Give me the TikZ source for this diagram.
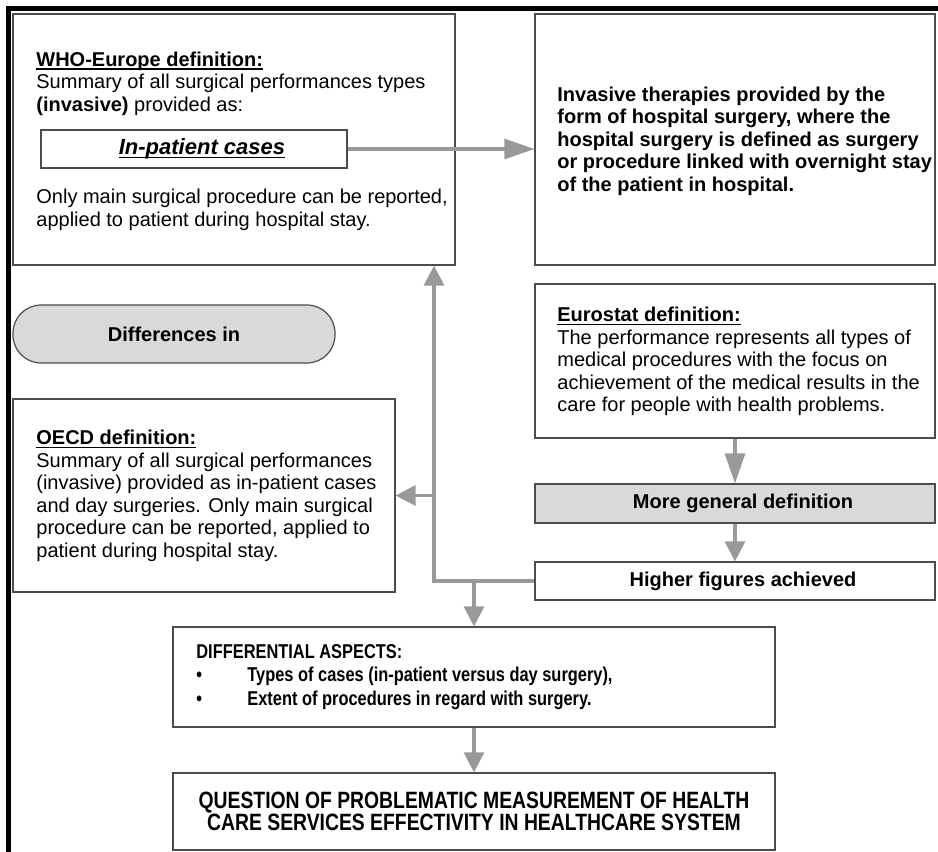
\documentclass[tikz,border=0pt]{standalone}
\usepackage{fontspec}
\setmainfont{Liberation Sans}
\newfontfamily\narrowfont[FakeStretch=0.82]{Liberation Sans}
\usetikzlibrary{arrows.meta}
\newcommand{\undl}[1]{\setbox0\hbox{#1}\rlap{\rule[-1.6pt]{\wd0}{0.6pt}}\box0}
\tikzset{
  frame/.style={draw=black!70, line width=0.6pt, inner sep=0pt},
  shaded/.style={frame, fill=black!15},
  txt/.style={inner sep=0pt, align=left},
  conn/.style={draw=black!40, line width=1.6pt, -{Triangle[length=10pt,width=10pt]}},
  longconn/.style={conn, -{Triangle[length=15pt,width=10pt]}},
}
\begin{document}
\begin{tikzpicture}[x=0.5pt,y=-0.5pt,font=\fontsize{10}{11.25}\selectfont]
\useasboundingbox (0,0) rectangle (938,852);
% outer frame
\draw[line width=2.5pt] (940,8.5) -- (8.5,8.5) -- (8.5,854);

% WHO-Europe
\node[frame, minimum width=221pt, minimum height=125.5pt] (who) at (234,139.5) {};
\node[txt, anchor=north west] (whohead) at (36,51.5) {\undl{\textbf{WHO-Europe definition:}}\\ Summary of all surgical performances types\\ \textbf{(invasive)} provided as:};
\node[frame, minimum width=153pt, minimum height=19pt, font=\fontsize{11}{13}\selectfont\bfseries\itshape] (inpat) at (194,149) {\hspace*{8pt}\undl{In-patient cases}};
\node[txt, anchor=north west] (whofoot) at (36,189) {Only main surgical procedure can be reported,\\ applied to patient during hospital stay.};

% hospital surgery
\node[frame, minimum width=200pt, minimum height=125.5pt] (hosp) at (735,139.5) {};
\node[txt, anchor=west, font=\fontsize{10}{11.25}\selectfont\bfseries] (hosptxt) at (557,141) {Invasive therapies provided by the\\ form of hospital surgery, where the\\ hospital surgery is defined as surgery\\ or procedure linked with overnight stay\\ of the patient in hospital.};

% Eurostat
\node[frame, minimum width=200pt, minimum height=77pt] (euro) at (735,361) {};
\node[txt, anchor=west] (eurotxt) at (557,361.5) {\undl{\textbf{Eurostat definition:}}\\ The performance represents all types of\\ medical procedures with the focus on\\ achievement of the medical results in the\\ care for people with health problems.};
\node[shaded, minimum width=200pt, minimum height=19.5pt, font=\bfseries] (general) at (735,503.5) {\hspace*{8pt}More general definition};
\node[frame, minimum width=200pt, minimum height=19pt, font=\bfseries] (higher) at (735,581) {\hspace*{8pt}Higher figures achieved};

% differences
\node[shaded, rounded corners=14pt, minimum width=161pt, minimum height=29pt, font=\bfseries] (diffs) at (174,334) {Differences in};

% OECD
\node[frame, minimum width=191pt, minimum height=96.5pt] (oecd) at (204,495.5) {};
\node[txt, anchor=west] (oecdtxt) at (36,496) {\undl{\textbf{OECD definition:}}\\ Summary of all surgical performances\\ (invasive) provided as in-patient cases\\ and day surgeries. Only main surgical\\ procedure can be reported, applied to\\ patient during hospital stay.};

% aspects and question
\node[frame, minimum width=301pt, minimum height=50pt] (aspects) at (474,677) {};
\node[txt, anchor=west, font=\fontsize{10}{11.75}\selectfont\narrowfont\bfseries] (aspectstxt) at (196,677) {DIFFERENTIAL ASPECTS:\\ \makebox[25.5pt][l]{\textbullet}Types of cases (in-patient versus day surgery),\\ \makebox[25.5pt][l]{\textbullet}Extent of procedures in regard with surgery.};
\node[frame, minimum width=301pt, minimum height=38.5pt, align=center, font=\fontsize{11.8}{10.9}\selectfont\narrowfont\bfseries] (question) at (474,811.5) {QUESTION OF PROBLEMATIC MEASUREMENT OF HEALTH\\ CARE SERVICES EFFECTIVITY IN HEALTHCARE SYSTEM};

% connectors
\draw[longconn] (inpat.east) -- (inpat.east -| hosp.west);
\coordinate (trunk) at (434,581);
\draw[conn] (higher.west) -- (trunk) -- (trunk |- who.south);
\draw[conn] (trunk |- oecd.east) -- (oecd.east);
\coordinate (split) at (aspects.north |- trunk);
\draw[conn] (split) -- (aspects.north);
\draw[longconn] (euro.south) -- (general.north);
\draw[conn] (general.south) -- (higher.north);
\draw[conn] (aspects.south) -- (question.north);
\end{tikzpicture}
\end{document}
